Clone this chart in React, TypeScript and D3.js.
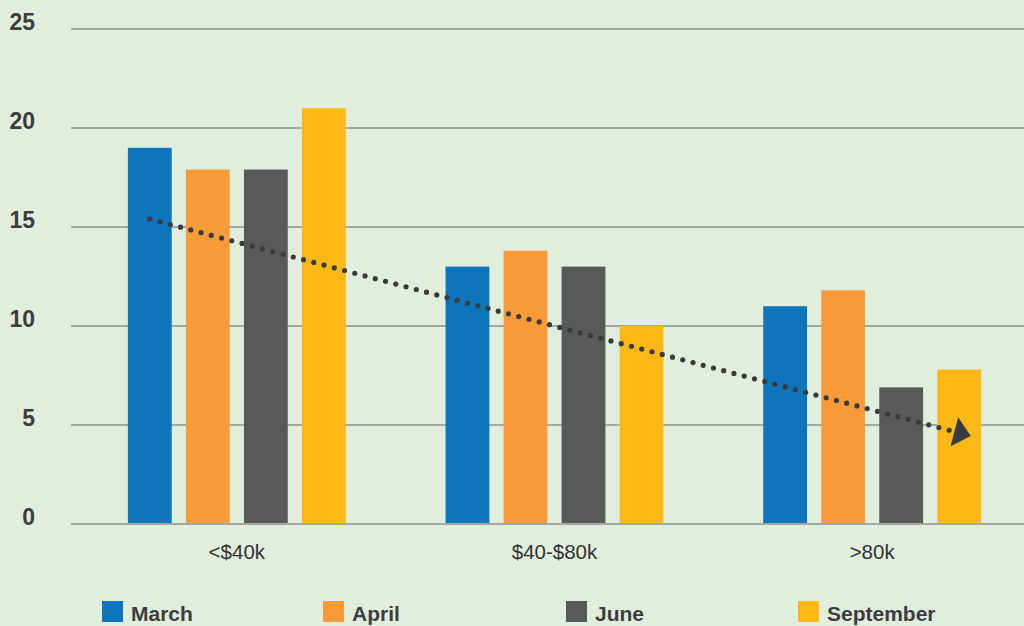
import React from "react";
import * as d3 from "d3";

const categories = ["<$40k", "$40-$80k", ">80k"];
const seriesNames = ["March", "April", "June", "September"];
const seriesColors = ["#0e74bb", "#f89a38", "#58595b", "#fdb816"];
const marchValues = [19, 13, 11];
const aprilValues = [17.9, 13.8, 11.8];
const juneValues = [17.9, 13, 6.9];
const septemberValues = [21, 10, 7.8];
const yTicks = [0, 5, 10, 15, 20, 25];
const trendValues = [15.4, 4.6];

const W = 1024;
const H = 626;
const FONT = "'Liberation Sans', Arial, sans-serif";

export default function App() {
  const values = [marchValues, aprilValues, juneValues, septemberValues];
  const y = d3.scaleLinear().domain([0, 25]).range([524, 29]);
  const x0 = d3.scaleBand<string>().domain(categories).range([78, 1031]).paddingInner(0).paddingOuter(0);
  const x1 = d3
    .scaleBand<string>()
    .domain(seriesNames)
    .range([0, x0.bandwidth()])
    .paddingInner(0.245)
    .paddingOuter(0.86);

  const barCenter = (ci: number, si: number) =>
    (x0(categories[ci]) as number) + (x1(seriesNames[si]) as number) + x1.bandwidth() / 2;

  // trend line
  const sx = barCenter(0, 0);
  const sy = y(trendValues[0]);
  const ex = barCenter(2, 3);
  const ey = y(trendValues[1]);
  const len = Math.hypot(ex - sx, ey - sy);
  const ux = (ex - sx) / len;
  const uy = (ey - sy) / len;
  const px = -uy;
  const py = ux;
  const tip = [ex + 12 * ux, ey + 12 * uy];
  const b1 = [ex - 5 * ux + 15 * px, ey - 5 * uy + 15 * py];
  const b2 = [ex - 5 * ux - 15 * px, ey - 5 * uy - 15 * py];
  const lineEnd = [ex - 9 * ux, ey - 9 * uy];

  const legendX = [102, 323, 566, 798];

  return (
    <svg
      width={W}
      height={H}
      style={{ position: "absolute", left: 0, top: 0, display: "block" }}
      fontFamily={FONT}
    >
      <rect x={0} y={0} width={W} height={H} fill="#e1eddd" />
      {yTicks.map((t) => (
        <g key={t}>
          <line x1={71} x2={W} y1={y(t)} y2={y(t)} stroke="#a3a8a3" strokeWidth={1.8} />
          <text x={35} y={y(t) + 1} textAnchor="end" fontSize={23} fontWeight={700} fill="#3d3d3d">
            {t}
          </text>
        </g>
      ))}
      {categories.map((c, ci) => (
        <g key={c}>
          {seriesNames.map((s, si) => {
            const v = values[si][ci];
            return (
              <rect
                key={s}
                x={(x0(c) as number) + (x1(s) as number)}
                y={y(v)}
                width={x1.bandwidth()}
                height={y(0) - y(v) - 1}
                fill={seriesColors[si]}
              />
            );
          })}
          <text
            x={(x0(c) as number) + x0.bandwidth() / 2}
            y={559}
            textAnchor="middle"
            fontSize={20.5}
            fill="#333333"
          >
            {c}
          </text>
        </g>
      ))}
      <line
        x1={sx}
        y1={sy}
        x2={lineEnd[0]}
        y2={lineEnd[1]}
        stroke="#3a3a3a"
        strokeWidth={5.2}
        strokeLinecap="round"
        strokeDasharray="0 10.6"
      />
      <polygon points={[tip, b1, b2].map((p) => p.join(",")).join(" ")} fill="#3a3a3a" />
      {seriesNames.map((s, si) => (
        <g key={s}>
          <rect x={legendX[si]} y={601} width={21} height={21} fill={seriesColors[si]} />
          <text x={legendX[si] + 29} y={621} fontSize={21} fontWeight={700} fill="#3d3d3d">
            {s}
          </text>
        </g>
      ))}
    </svg>
  );
}
